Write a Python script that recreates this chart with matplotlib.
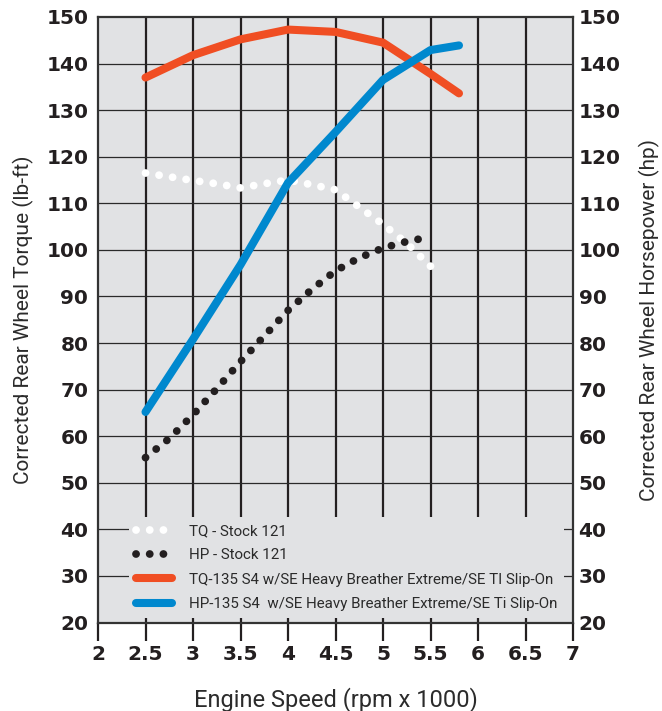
# Dyno chart: stock vs modified torque / horsepower
import matplotlib
matplotlib.use('Agg')
import matplotlib.pyplot as plt
from matplotlib.lines import Line2D

BG = '#e1e2e4'
INK = '#231f20'
ORANGE = '#f04e23'
BLUE = '#0088ce'

# data
rpm_stock_tq = [2.5, 2.75, 3.0, 3.25, 3.5, 3.75, 4.0, 4.25, 4.5, 4.75, 5.0, 5.25, 5.5]
tq_stock = [116.5, 115.7, 114.9, 114.2, 113.3, 114.2, 115.0, 114.0, 112.9, 109.2, 105.5, 101.4, 96.5]

rpm_stock_hp = [2.5, 2.75, 3.0, 3.25, 3.5, 3.75, 4.0, 4.25, 4.5, 4.75, 5.0, 5.25, 5.4]
hp_stock = [55.4, 59.5, 64.6, 70.2, 76.0, 81.5, 87.0, 91.5, 95.5, 98.3, 100.4, 101.8, 102.4]

rpm_mod = [2.5, 3.0, 3.5, 4.0, 4.5, 5.0, 5.5, 5.8]
tq_mod = [137.0, 141.8, 145.2, 147.3, 146.8, 144.5, 137.8, 133.6]
hp_mod = [65.2, 80.8, 96.8, 114.4, 125.3, 136.5, 142.9, 143.9]

x_ticks = [2, 2.5, 3, 3.5, 4, 4.5, 5, 5.5, 6, 6.5, 7]
y_ticks = list(range(20, 151, 10))

labels = ['TQ - Stock 121',
          'HP - Stock 121',
          'TQ-135 S4 w/SE Heavy Breather Extreme/SE TI Slip-On',
          'HP-135 S4  w/SE Heavy Breather Extreme/SE Ti Slip-On']

fig = plt.figure(figsize=(6.62, 7.11), dpi=100)
ax = fig.add_axes([98/662, 1-622.5/711, 475/662, 605.5/711])
ax.set_facecolor(BG)
ax.set_xlim(2, 7)
ax.set_ylim(20, 150)

# grid
for xv in x_ticks[1:-1]:
    ax.axvline(xv, color=INK, lw=1.6, zorder=1)
for yv in y_ticks[1:-1]:
    ax.axhline(yv, color='#2a2a2a', lw=0.9, zorder=1)

dot = (0, (0.01, 1.75))
ax.plot(rpm_stock_tq, tq_stock, color='white', lw=5.6, linestyle=dot,
        dash_capstyle='round', zorder=3)
ax.plot(rpm_stock_hp, hp_stock, color=INK, lw=5.6, linestyle=dot,
        dash_capstyle='round', zorder=3)
ax.plot(rpm_mod, tq_mod, color=ORANGE, lw=5.8, solid_capstyle='round',
        solid_joinstyle='round', zorder=4)
ax.plot(rpm_mod, hp_mod, color=BLUE, lw=5.8, solid_capstyle='round',
        solid_joinstyle='round', zorder=4)

handles = [
    Line2D([], [], color='white', lw=5.6, linestyle=dot, dash_capstyle='round'),
    Line2D([], [], color=INK, lw=5.6, linestyle=dot, dash_capstyle='round'),
    Line2D([], [], color=ORANGE, lw=5.8, solid_capstyle='round'),
    Line2D([], [], color=BLUE, lw=5.8, solid_capstyle='round'),
]
leg = ax.legend(handles, labels, loc='lower left', bbox_to_anchor=(0.065, 0.008),
                frameon=True, facecolor=BG, edgecolor='none', framealpha=1,
                fancybox=False, handlelength=2.4, handletextpad=1.1,
                labelspacing=0.68, borderpad=0.45, borderaxespad=0,
                prop={'family': 'Roboto', 'size': 10.9})
for t in leg.get_texts():
    t.set_color('#2b2b2b')
leg.set_zorder(6)

for s in ax.spines.values():
    s.set_color('#333333')
    s.set_linewidth(1.6)

tick_font = {'family': 'DejaVu Sans', 'weight': 'bold', 'size': 14.5}
ax.set_xticks(x_ticks)
ax.set_xticklabels([('%g' % v) for v in x_ticks], fontdict=tick_font, color=INK)
ax.tick_params(axis='x', direction='out', length=13, width=1.6, color=INK, pad=3)
ax.set_yticks(y_ticks)
ax.set_yticklabels([str(v) for v in y_ticks], fontdict=tick_font, color=INK)
ax.tick_params(axis='y', length=0, pad=7)

ax2 = ax.twinx()
ax2.set_ylim(20, 150)
ax2.set_yticks(y_ticks)
ax2.set_yticklabels([str(v) for v in y_ticks], fontdict=tick_font, color=INK)
ax2.tick_params(axis='y', length=0, pad=4)
for s in ax2.spines.values():
    s.set_visible(False)

lab_font = {'family': 'Roboto', 'size': 15, 'color': '#2b2b2b'}
ax.set_ylabel('Corrected Rear Wheel Torque (lb-ft)', **lab_font)
ax.yaxis.set_label_coords(-0.135, 0.5)
ax2.set_ylabel('Corrected Rear Wheel Horsepower (hp)', **lab_font)
ax2.yaxis.set_label_coords(1.139, 0.5)
ax.set_xlabel('Engine Speed (rpm x 1000)', family='Roboto',
              size=17, color='#2b2b2b', labelpad=17)

fig.savefig('out.png', dpi=100)
